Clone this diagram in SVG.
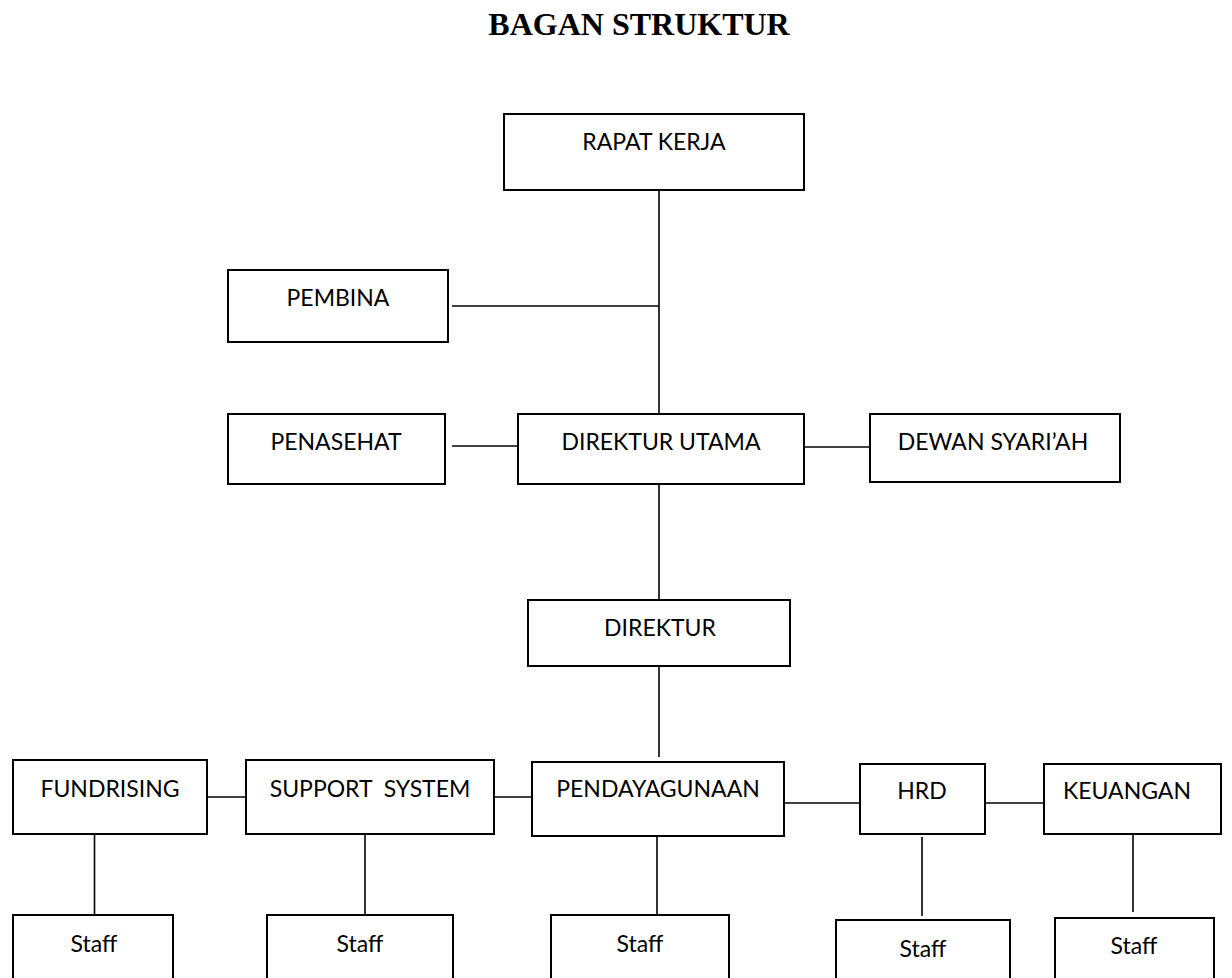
<svg xmlns="http://www.w3.org/2000/svg" width="1232" height="978" viewBox="0 0 1232 978">
<style>
  .box { fill: #ffffff; stroke: #000000; stroke-width: 2; }
  .lbl { font-family: Lato, "Open Sans", sans-serif; font-size: 23px; fill: #000000; text-anchor: middle; }
  .conn { stroke: #000000; stroke-width: 1.6; fill: none; }
  .title { font-family: "Liberation Serif", "Times New Roman", serif; font-weight: bold; font-size: 32px; fill: #000000; text-anchor: middle; }
</style>
<rect x="0" y="0" width="1232" height="978" fill="#ffffff"/>
<text class="title" x="639" y="35">BAGAN STRUKTUR</text>

<g id="connectors">
  <line class="conn" x1="659" y1="190" x2="659" y2="414"/>
  <line class="conn" x1="452" y1="306" x2="659" y2="306"/>
  <line class="conn" x1="452" y1="446" x2="518" y2="446"/>
  <line class="conn" x1="804" y1="447" x2="870" y2="447"/>
  <line class="conn" x1="659" y1="484" x2="659" y2="600"/>
  <line class="conn" x1="659" y1="666" x2="659" y2="757"/>
  <line class="conn" x1="207" y1="797" x2="246" y2="797"/>
  <line class="conn" x1="494" y1="797" x2="532" y2="797"/>
  <line class="conn" x1="784" y1="803" x2="860" y2="803"/>
  <line class="conn" x1="985" y1="803" x2="1044" y2="803"/>
  <line class="conn" x1="94.5" y1="834" x2="94.5" y2="917"/>
  <line class="conn" x1="365" y1="834" x2="365" y2="915"/>
  <line class="conn" x1="657" y1="836" x2="657" y2="914"/>
  <line class="conn" x1="922" y1="837" x2="922" y2="916"/>
  <line class="conn" x1="1133" y1="834" x2="1133" y2="912"/>
</g>

<g id="rapat-kerja"><rect class="box" x="504" y="114" width="300" height="76"/><text class="lbl" x="654" y="150">RAPAT KERJA</text></g>
<g id="pembina"><rect class="box" x="228" y="270" width="220" height="72"/><text class="lbl" x="338" y="306">PEMBINA</text></g>
<g id="penasehat"><rect class="box" x="228" y="414" width="217" height="70"/><text class="lbl" x="336" y="450">PENASEHAT</text></g>
<g id="direktur-utama"><rect class="box" x="518" y="414" width="286" height="70"/><text class="lbl" x="661" y="450">DIREKTUR UTAMA</text></g>
<g id="dewan-syariah"><rect class="box" x="870" y="414" width="250" height="68"/><text class="lbl" x="993" y="450">DEWAN SYARI’AH</text></g>
<g id="direktur"><rect class="box" x="528" y="600" width="262" height="66"/><text class="lbl" x="660" y="636">DIREKTUR</text></g>
<g id="fundrising"><rect class="box" x="13" y="760" width="194" height="74"/><text class="lbl" x="110" y="797">FUNDRISING</text></g>
<g id="support-system"><rect class="box" x="246" y="760" width="248" height="74"/><text class="lbl" x="370" y="797" xml:space="preserve">SUPPORT  SYSTEM</text></g>
<g id="pendayagunaan"><rect class="box" x="532" y="762" width="252" height="74"/><text class="lbl" x="658" y="797">PENDAYAGUNAAN</text></g>
<g id="hrd"><rect class="box" x="860" y="764" width="125" height="70"/><text class="lbl" x="922" y="799">HRD</text></g>
<g id="keuangan"><rect class="box" x="1044" y="764" width="177" height="70"/><text class="lbl" x="1127" y="799">KEUANGAN</text></g>
<g id="staff-1"><rect class="box" x="13" y="915" width="160" height="80"/><text class="lbl" x="94" y="952">Staff</text></g>
<g id="staff-2"><rect class="box" x="267" y="915" width="186" height="80"/><text class="lbl" x="360" y="952">Staff</text></g>
<g id="staff-3"><rect class="box" x="551" y="915" width="178" height="80"/><text class="lbl" x="640" y="952">Staff</text></g>
<g id="staff-4"><rect class="box" x="836" y="920" width="174" height="80"/><text class="lbl" x="923" y="957">Staff</text></g>
<g id="staff-5"><rect class="box" x="1055" y="918" width="159" height="80"/><text class="lbl" x="1134" y="954">Staff</text></g>
</svg>
